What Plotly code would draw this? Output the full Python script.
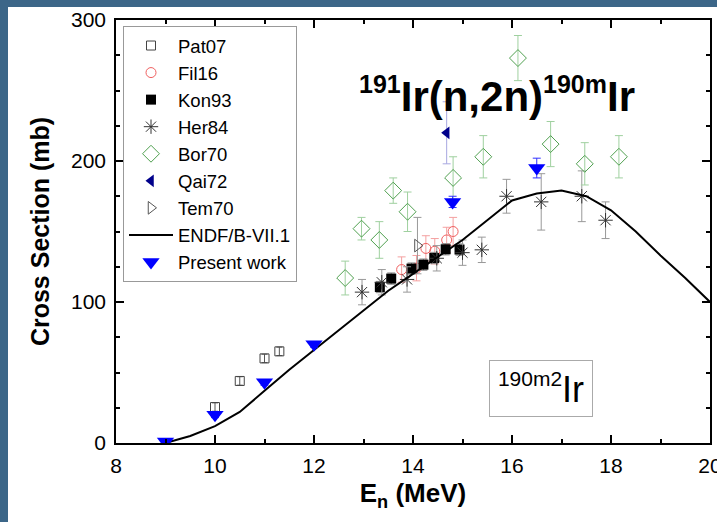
import plotly.graph_objects as go

# ---------------- data ----------------
pat07_x = [10.0, 10.5, 11.0, 11.3]
pat07_y = [25.5, 44, 60, 65]
pat07_e = [3, 3, 3, 3]

fil16_x = [13.77, 14.07, 14.26, 14.44, 14.68, 14.81]
fil16_y = [123, 124, 138, 136, 144, 150]
fil16_e = [9, 9, 9, 9, 9, 10]

kon93_x = [13.33, 13.56, 13.97, 14.21, 14.43, 14.66, 14.94]
kon93_y = [110.6, 116.6, 123.7, 126.5, 131.2, 137.4, 137.2]
kon93_e = [4, 4, 4, 4, 4, 4, 4]

her84_x = [12.97, 13.37, 13.88, 14.48, 15.0, 15.39, 15.89, 16.59, 17.41, 17.89]
her84_y = [107, 114, 116, 131, 135, 137, 175, 171, 175, 158]
her84_e = [9, 9, 9, 9, 9, 9, 12, 20, 18, 13]

bor70_x = [12.63, 12.96, 13.32, 13.6, 13.89, 14.81, 15.42, 16.12, 16.78, 17.47, 18.16]
bor70_y = [117, 152, 144, 179, 164, 188, 203, 273, 212, 198, 203]
bor70_e = [12, 8, 13, 9, 14, 15, 15, 16, 16, 15, 15]

qai72_x = [14.68]
qai72_y = [220]
qai72_e = [22]

tem70_x = [14.09]
tem70_y = [140]
tem70_e = [20]

endf_x = [9, 9.5, 10, 10.5, 11, 11.5, 12, 12.5, 13, 13.5, 14, 14.5, 15, 15.5,
          16, 16.5, 17, 17.5, 18, 18.5, 19, 19.5, 20]
endf_y = [0, 5, 12, 22, 37, 52, 66, 80, 94, 108, 120, 132, 144, 158,
          172, 177, 179, 175, 165, 150, 133, 117, 100]

present_x = [9, 10, 11, 12, 14.8, 16.5]
present_y = [1, 20, 43, 70, 171, 195]
present_e = [1, 2, 2, 2, 4, 7]

# ---------------- figure ----------------
W, H = 717, 522
ML, MR, MT, MB = 116, 7, 20, 79

fig = go.Figure()

def err(vals, color, width=4, thick=1):
    return dict(type="data", array=vals, visible=True, color=color,
                thickness=thick, width=width)

fig.add_trace(go.Scatter(x=pat07_x, y=pat07_y, mode="markers", name="Pat07",
                         error_y=err(pat07_e, "#555555", 3),
                         marker=dict(symbol="square-open", size=9,
                                     color="#444444", line=dict(width=1))))
fig.add_trace(go.Scatter(x=fil16_x, y=fil16_y, mode="markers", name="Fil16",
                         error_y=err(fil16_e, "#f4a0a0"),
                         marker=dict(symbol="circle-open", size=10,
                                     color="#f06060", line=dict(width=1))))
fig.add_trace(go.Scatter(x=kon93_x, y=kon93_y, mode="markers", name="Kon93",
                         error_y=err(kon93_e, "#888888"),
                         marker=dict(symbol="square", size=10, color="black")))
fig.add_trace(go.Scatter(x=her84_x, y=her84_y, mode="markers", name="Her84",
                         error_y=err(her84_e, "#999999"),
                         marker=dict(symbol="asterisk-open", size=12,
                                     color="#333333", line=dict(width=1, color="#333333"))))
fig.add_trace(go.Scatter(x=bor70_x, y=bor70_y, mode="markers", name="Bor70",
                         error_y=err(bor70_e, "#9fd09f"),
                         marker=dict(symbol="diamond-open", size=13,
                                     color="#4fa04f", line=dict(width=1))))
fig.add_trace(go.Scatter(x=qai72_x, y=qai72_y, mode="markers", name="Qai72",
                         error_y=err(qai72_e, "#a8a8e0"),
                         marker=dict(symbol="triangle-left", size=11, color="#00008b")))
fig.add_trace(go.Scatter(x=tem70_x, y=tem70_y, mode="markers", name="Tem70",
                         error_y=err(tem70_e, "#999999"),
                         marker=dict(symbol="triangle-right-open", size=11,
                                     color="#555555", line=dict(width=1))))
fig.add_trace(go.Scatter(x=endf_x, y=endf_y, mode="lines", name="ENDF/B-VII.1",
                         line=dict(color="black", width=2)))
fig.add_trace(go.Scatter(x=present_x, y=present_y, mode="markers", name="Present work",
                         error_y=err(present_e, "#3030ff"),
                         marker=dict(symbol="triangle-down", size=15, color="#0000ff")))

pw = W - ML - MR
ph = H - MT - MB

def px_x(p):
    return (p - ML) / pw

def px_y(p):
    return (H - MB - p) / ph

# blue slide background strips
fig.add_shape(type="rect", xref="paper", yref="paper", layer="below",
              x0=px_x(0), x1=px_x(8), y0=px_y(H), y1=px_y(0),
              fillcolor="#3c6688", line=dict(width=0))
fig.add_shape(type="rect", xref="paper", yref="paper", layer="below",
              x0=px_x(0), x1=px_x(W), y0=px_y(7), y1=px_y(0),
              fillcolor="#3c6688", line=dict(width=0))

axis_common = dict(showline=True, linecolor="black", linewidth=1.6, mirror="ticks",
                   ticks="inside", ticklen=8, tickwidth=1.6, tickcolor="black",
                   showgrid=False, zeroline=False, ticklabeloverflow="allow",
                   automargin=False,
                   tickfont=dict(family="Liberation Sans, Arial", size=21, color="black"))

fig.update_xaxes(range=[8, 20], dtick=2, tick0=8,
                 minor=dict(dtick=1, ticks="inside", ticklen=4, tickcolor="black", tickwidth=1.6),
                 title=dict(text="<b>E<sub>n</sub> (MeV)</b>", standoff=8,
                            font=dict(family="Liberation Sans, Arial", size=26, color="black")),
                 ticklabelstandoff=3, **axis_common)
fig.update_yaxes(range=[0, 300], dtick=100, tick0=0,
                 minor=dict(dtick=25, ticks="inside", ticklen=4, tickcolor="black", tickwidth=1.6),
                 title=dict(text="<b>Cross Section (mb)</b>", standoff=14,
                            font=dict(family="Liberation Sans, Arial", size=25, color="black")),
                 ticklabelstandoff=4, **axis_common)

fig.add_annotation(xref="paper", yref="paper", x=px_x(357), y=px_y(95),
                   xanchor="left", yanchor="middle", showarrow=False,
                   text="<b><sup><span style='font-size:25px'>191</span></sup>Ir(n,2n)"
                        "<sup><span style='font-size:25px'>190m</span></sup>Ir</b>",
                   font=dict(family="Liberation Sans Narrow, Arial Narrow, Liberation Sans",
                             size=42, color="black"))

fig.add_annotation(xref="paper", yref="paper", x=px_x(541), y=px_y(388),
                   xanchor="center", yanchor="middle", showarrow=False,
                   text="<sup><span style='font-size:21px'>190m2</span></sup>Ir",
                   font=dict(family="Liberation Sans, Arial", size=36, color="black"),
                   bordercolor="#aaaaaa", borderwidth=1, borderpad=4, bgcolor="white",
                   width=94, height=47)

fig.update_layout(
    width=W, height=H,
    margin=dict(l=ML, r=MR, t=MT, b=MB, pad=0, autoexpand=False),
    paper_bgcolor="white", plot_bgcolor="white",
    font=dict(family="Liberation Sans, Arial", color="black"),
    legend=dict(x=px_x(123), y=px_y(26), xanchor="left", yanchor="top",
                bgcolor="white", bordercolor="#999999", borderwidth=1,
                font=dict(family="Liberation Sans, Arial", size=18.5, color="black"),
                itemwidth=44, tracegroupgap=0),
    showlegend=True,
)

fig.write_html("out.html")
